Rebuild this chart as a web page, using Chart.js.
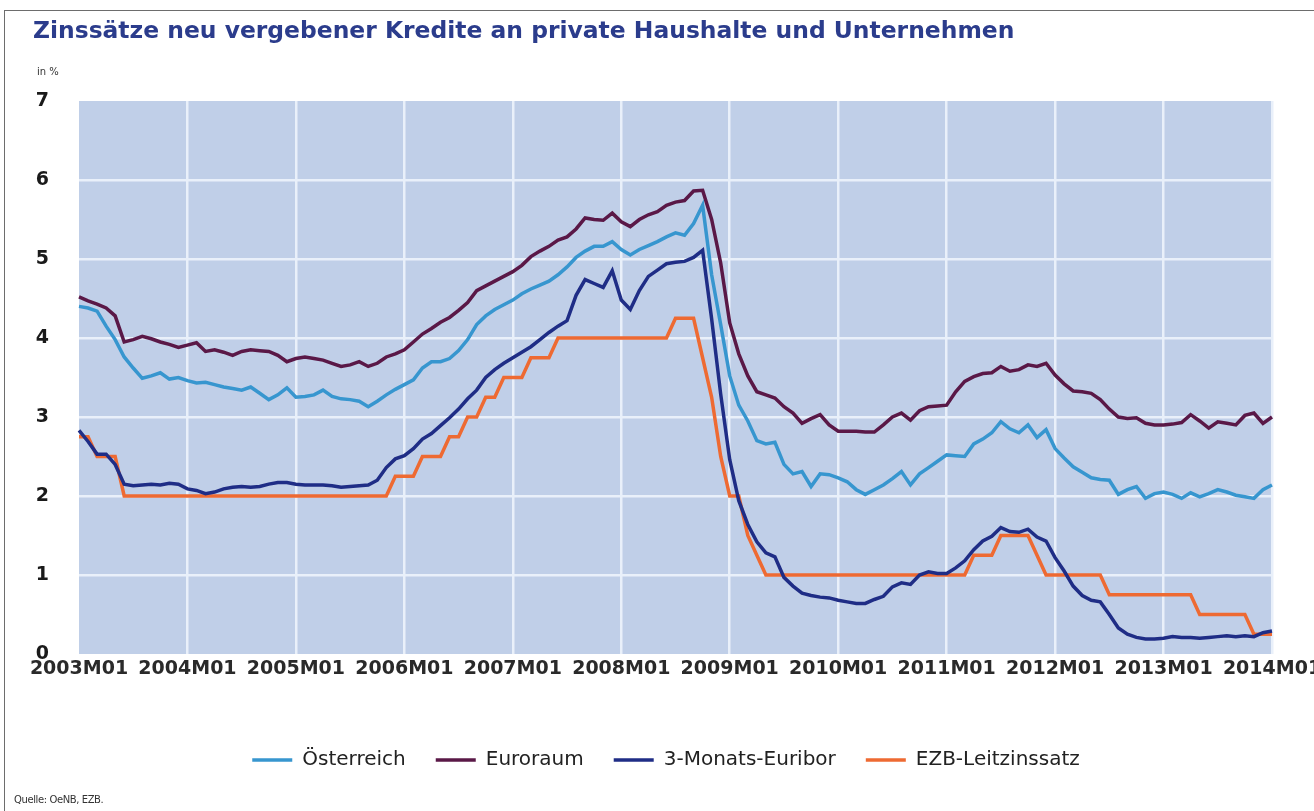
<!DOCTYPE html>
<html lang="de">
<head>
<meta charset="utf-8">
<title>Zinssätze neu vergebener Kredite</title>
<script src="https://cdn.jsdelivr.net/npm/chart.js@4.4.1/dist/chart.umd.min.js"></script>
<style>
  html, body { margin: 0; padding: 0; background: #fff; }
  #wrap { position: relative; width: 1314px; height: 811px; overflow: hidden; font-family: "DejaVu Sans", sans-serif; }
  #rahmen { position: absolute; left: 4px; top: 10px; width: 1400px; height: 900px; border: 1px solid #6d6d6d; }
  canvas { position: absolute; left: 0; top: 0; }
  #titel { position: absolute; left: 33px; top: 19px; font-weight: bold; color: #2b3c8c; white-space: nowrap; line-height: 1; }
  #einheit { position: absolute; left: 37px; top: 66px; font-size: 10px; color: #333; }
  #quelle { position: absolute; left: 14px; top: 794px; font-size: 10px; color: #333; letter-spacing: -0.4px; }
</style>
</head>
<body>
<div id="wrap">
  <div id="rahmen"></div>
  <canvas id="grafik" width="1314" height="811"></canvas>
  <div id="titel">Zinssätze neu vergebener Kredite an private Haushalte und Unternehmen</div>
  <div id="einheit">in %</div>
  <div id="quelle">Quelle: OeNB, EZB.</div>
</div>
<script>
// Monatswerte 2003M01 bis 2014M01
const jahre = [2003, 2004, 2005, 2006, 2007, 2008, 2009, 2010, 2011, 2012, 2013, 2014];

const oesterreich = [
  4.40, 4.38, 4.34, 4.15, 3.98, 3.76, 3.62, 3.49, 3.52, 3.56, 3.48, 3.50,
  3.46, 3.43, 3.44, 3.41, 3.38, 3.36, 3.34, 3.38, 3.30, 3.22, 3.28, 3.37,
  3.25, 3.26, 3.28, 3.34, 3.26, 3.23, 3.22, 3.20, 3.13, 3.20, 3.28, 3.35,
  3.41, 3.47, 3.62, 3.70, 3.70, 3.74, 3.84, 3.98, 4.17, 4.28, 4.36, 4.42,
  4.48, 4.56, 4.62, 4.67, 4.72, 4.80, 4.90, 5.02, 5.10, 5.16, 5.16, 5.22,
  5.12, 5.05, 5.12, 5.17, 5.22, 5.28, 5.33, 5.30, 5.45, 5.68, 4.80, 4.17,
  3.52, 3.15, 2.95, 2.70, 2.66, 2.68, 2.40, 2.28, 2.31, 2.12, 2.28, 2.27,
  2.23, 2.18, 2.08, 2.02, 2.08, 2.14, 2.22, 2.31, 2.14, 2.28, 2.36, 2.44,
  2.52, 2.51, 2.50, 2.66, 2.72, 2.80, 2.94, 2.85, 2.80, 2.90, 2.74, 2.84,
  2.60, 2.48, 2.37, 2.30, 2.23, 2.21, 2.20, 2.02, 2.08, 2.12, 1.97, 2.03,
  2.05, 2.02, 1.97, 2.04, 1.99, 2.03, 2.08, 2.05, 2.01, 1.99, 1.97, 2.08,
  2.14
];

const euroraum = [
  4.52, 4.47, 4.43, 4.38, 4.28, 3.95, 3.98, 4.02, 3.99, 3.95, 3.92, 3.88,
  3.91, 3.94, 3.83, 3.85, 3.82, 3.78, 3.83, 3.85, 3.84, 3.83, 3.78, 3.70,
  3.74, 3.76, 3.74, 3.72, 3.68, 3.64, 3.66, 3.70, 3.64, 3.68, 3.76, 3.80,
  3.85, 3.95, 4.05, 4.12, 4.20, 4.26, 4.35, 4.45, 4.60, 4.66, 4.72, 4.78,
  4.84, 4.92, 5.03, 5.10, 5.16, 5.24, 5.28, 5.38, 5.52, 5.50, 5.49, 5.58,
  5.47, 5.41, 5.50, 5.56, 5.60, 5.68, 5.72, 5.74, 5.86, 5.87, 5.50, 4.95,
  4.19, 3.80, 3.52, 3.32, 3.28, 3.24, 3.13, 3.05, 2.92, 2.98, 3.03, 2.90,
  2.82, 2.82, 2.82, 2.81, 2.81, 2.90, 3.00, 3.05, 2.96, 3.08, 3.13, 3.14,
  3.15, 3.32, 3.45, 3.51, 3.55, 3.56, 3.64, 3.58, 3.60, 3.66, 3.64, 3.68,
  3.53, 3.42, 3.33, 3.32, 3.30, 3.22, 3.10, 3.00, 2.98, 2.99, 2.92, 2.90,
  2.90, 2.91, 2.93, 3.03, 2.95, 2.86, 2.94, 2.92, 2.90, 3.02, 3.05, 2.92,
  3.00
];

const euribor = [
  2.83, 2.69, 2.53, 2.53, 2.40, 2.15, 2.13, 2.14, 2.15, 2.14, 2.16, 2.15,
  2.09, 2.07, 2.03, 2.05, 2.09, 2.11, 2.12, 2.11, 2.12, 2.15, 2.17, 2.17,
  2.15, 2.14, 2.14, 2.14, 2.13, 2.11, 2.12, 2.13, 2.14, 2.20, 2.36, 2.47,
  2.51, 2.60, 2.72, 2.79, 2.89, 2.99, 3.10, 3.23, 3.34, 3.50, 3.60, 3.68,
  3.75, 3.82, 3.89, 3.98, 4.07, 4.15, 4.22, 4.54, 4.74, 4.69, 4.64, 4.85,
  4.48, 4.36, 4.60, 4.78, 4.86, 4.94, 4.96, 4.97, 5.02, 5.11, 4.24, 3.29,
  2.46, 1.94, 1.64, 1.42, 1.28, 1.23, 0.97, 0.86, 0.77, 0.74, 0.72, 0.71,
  0.68, 0.66, 0.64, 0.64, 0.69, 0.73, 0.85, 0.90, 0.88, 1.00, 1.04, 1.02,
  1.02, 1.09, 1.18, 1.32, 1.43, 1.49, 1.60, 1.55, 1.54, 1.58, 1.48, 1.43,
  1.22, 1.05, 0.86, 0.74, 0.68, 0.66, 0.50, 0.33, 0.25, 0.21, 0.19, 0.19,
  0.20, 0.22, 0.21, 0.21, 0.20, 0.21, 0.22, 0.23, 0.22, 0.23, 0.22, 0.27,
  0.29
];

const leitzins = [
  2.75, 2.75, 2.50, 2.50, 2.50, 2.00, 2.00, 2.00, 2.00, 2.00, 2.00, 2.00,
  2.00, 2.00, 2.00, 2.00, 2.00, 2.00, 2.00, 2.00, 2.00, 2.00, 2.00, 2.00,
  2.00, 2.00, 2.00, 2.00, 2.00, 2.00, 2.00, 2.00, 2.00, 2.00, 2.00, 2.25,
  2.25, 2.25, 2.50, 2.50, 2.50, 2.75, 2.75, 3.00, 3.00, 3.25, 3.25, 3.50,
  3.50, 3.50, 3.75, 3.75, 3.75, 4.00, 4.00, 4.00, 4.00, 4.00, 4.00, 4.00,
  4.00, 4.00, 4.00, 4.00, 4.00, 4.00, 4.25, 4.25, 4.25, 3.75, 3.25, 2.50,
  2.00, 2.00, 1.50, 1.25, 1.00, 1.00, 1.00, 1.00, 1.00, 1.00, 1.00, 1.00,
  1.00, 1.00, 1.00, 1.00, 1.00, 1.00, 1.00, 1.00, 1.00, 1.00, 1.00, 1.00,
  1.00, 1.00, 1.00, 1.25, 1.25, 1.25, 1.50, 1.50, 1.50, 1.50, 1.25, 1.00,
  1.00, 1.00, 1.00, 1.00, 1.00, 1.00, 0.75, 0.75, 0.75, 0.75, 0.75, 0.75,
  0.75, 0.75, 0.75, 0.75, 0.50, 0.50, 0.50, 0.50, 0.50, 0.50, 0.25, 0.25,
  0.25
];

// Kategorien: 2003M01 ... 2014M01
const monate = [];
jahre.forEach(function (j) {
  for (let m = 1; m <= 12; m++) {
    if (monate.length < oesterreich.length) monate.push(j + 'M' + String(m).padStart(2, '0'));
  }
});

const schrift = '"DejaVu Sans", sans-serif';
const gitterFarbe = '#e9f0fa';

// Titel auf die Breite der Vorlage bringen
const titel = document.getElementById('titel');
const mess = document.createElement('canvas').getContext('2d');
mess.font = 'bold 100px "DejaVu Sans"';
titel.style.fontSize = (100 * 982 / mess.measureText(titel.textContent).width) + 'px';

const hintergrund = {
  id: 'hintergrund',
  beforeDraw(chart) {
    const { ctx, chartArea: a } = chart;
    ctx.save();
    ctx.fillStyle = '#c0cfe8';
    ctx.fillRect(a.left, a.top, a.right - a.left, a.bottom - a.top);
    ctx.restore();
  }
};

// Legende etwas nach rechts, wie in der Vorlage
const legendeVerschieben = {
  id: 'legendeVerschieben',
  afterLayout(chart) {
    chart.legend.left += 30;
    chart.legend.right += 30;
  }
};

function linie(label, data, farbe) {
  return {
    label: label,
    data: data,
    borderColor: farbe,
    backgroundColor: farbe,
    borderWidth: 3.5,
    pointRadius: 0,
    tension: 0,
    fill: false
  };
}

new Chart(document.getElementById('grafik'), {
  type: 'line',
  data: {
    labels: monate,
    datasets: [
      linie('Österreich', oesterreich, '#3796cf'),
      linie('Euroraum', euroraum, '#5a1847'),
      linie('3-Monats-Euribor', euribor, '#1f2d86'),
      linie('EZB-Leitzinssatz', leitzins, '#ee6a32')
    ]
  },
  options: {
    responsive: false,
    animation: false,
    layout: { padding: { top: 101, left: 0, right: 42, bottom: 31 } },
    plugins: {
      tooltip: { enabled: false },
      legend: {
        position: 'bottom',
        labels: {
          usePointStyle: true,
          pointStyle: 'line',
          pointStyleWidth: 40,
          padding: 30,
          color: '#222',
          font: { family: schrift, size: 20 }
        }
      }
    },
    scales: {
      x: {
        border: { display: false },
        grid: {
          drawTicks: false,
          lineWidth: 2.5,
          color: function (c) {
            return (c.index === 0 || c.index === monate.length - 1) ? 'rgba(0,0,0,0)' : gitterFarbe;
          }
        },
        ticks: {
          autoSkip: false,
          maxRotation: 0,
          padding: 4,
          color: '#2a2a2a',
          font: { family: schrift, size: 19, weight: 'bold' },
          callback: function (v, i) { return i % 12 === 0 ? monate[i] : null; }
        },
        afterFit: function (s) { s.height = 66; s.paddingLeft = 0; s.paddingRight = 0; }
      },
      y: {
        min: 0,
        max: 7,
        border: { display: false },
        grid: {
          drawTicks: false,
          lineWidth: 2.5,
          color: function (c) {
            return (c.tick.value === 0 || c.tick.value === 7) ? 'rgba(0,0,0,0)' : gitterFarbe;
          }
        },
        ticks: {
          stepSize: 1,
          padding: 30,
          color: '#1a1a1a',
          font: { family: schrift, size: 19, weight: 'bold' }
        },
        afterFit: function (s) { s.width = 79; s.paddingTop = 0; s.paddingBottom = 0; }
      }
    }
  },
  plugins: [hintergrund, legendeVerschieben]
});
</script>
</body>
</html>
